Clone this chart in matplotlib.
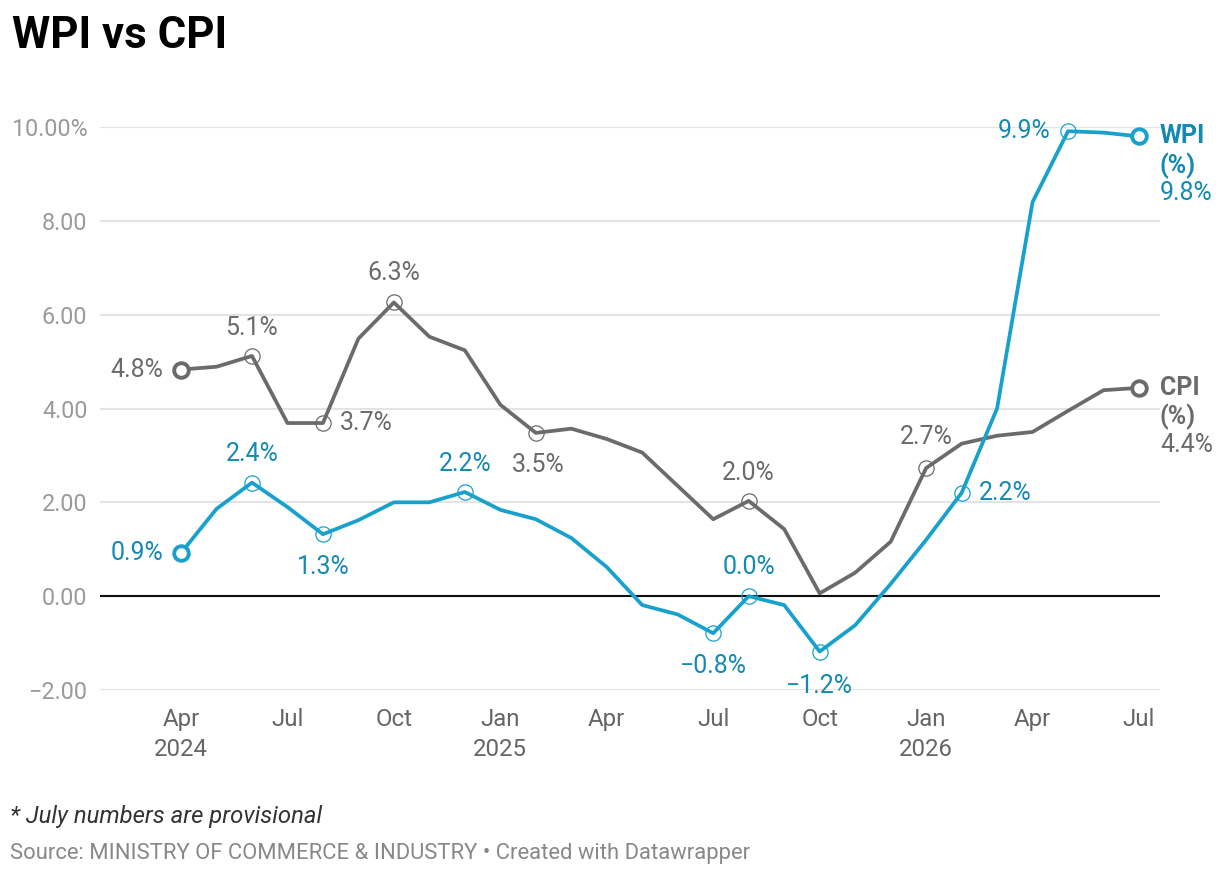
import matplotlib
matplotlib.use("Agg")
import matplotlib.pyplot as plt

plt.rcParams["font.family"] = ["Roboto", "DejaVu Sans"]

# Monthly inflation, Apr 2024 .. Jul 2026 (July numbers provisional)
months = ["Apr 2024", "May 2024", "Jun 2024", "Jul 2024", "Aug 2024", "Sep 2024",
          "Oct 2024", "Nov 2024", "Dec 2024", "Jan 2025", "Feb 2025", "Mar 2025",
          "Apr 2025", "May 2025", "Jun 2025", "Jul 2025", "Aug 2025", "Sep 2025",
          "Oct 2025", "Nov 2025", "Dec 2025", "Jan 2026", "Feb 2026", "Mar 2026",
          "Apr 2026", "May 2026", "Jun 2026", "Jul 2026"]
cpi = [4.83, 4.89, 5.12, 3.69, 3.69, 5.49, 6.26, 5.53, 5.24, 4.08, 3.48, 3.57,
       3.35, 3.06, 2.35, 1.64, 2.03, 1.43, 0.06, 0.50, 1.16, 2.73, 3.25, 3.42,
       3.50, 3.95, 4.39, 4.44]
wpi = [0.92, 1.86, 2.42, 1.90, 1.32, 1.62, 2.00, 2.00, 2.22, 1.84, 1.64, 1.24,
       0.62, -0.19, -0.39, -0.79, 0.00, -0.19, -1.18, -0.62, 0.26, 1.20, 2.20, 4.00,
       8.40, 9.91, 9.88, 9.80]

tick_idx = [0, 3, 6, 9, 12, 15, 18, 21, 24, 27]
tick_labels = ["Apr\n2024", "Jul", "Oct", "Jan\n2025", "Apr", "Jul", "Oct",
               "Jan\n2026", "Apr", "Jul"]
y_ticks = [-2, 0, 2, 4, 6, 8, 10]

CPI_COL = "#6b6b6b"
WPI_COL = "#18a1cd"
WPI_TXT = "#1489b3"
LABEL_SIZE = 18

# labelled points: (index, dx px, dy px, ha, va)
cpi_marks = [(0, -18, 0, "right", "center"), (2, 0, 28, "center", "center"),
             (4, 17, 0, "left", "center"), (6, 0, 29, "center", "center"),
             (10, 2, -32, "center", "center"), (16, 0, 28, "center", "center"),
             (21, 0, 31, "center", "center")]
wpi_marks = [(0, -18, 0, "right", "center"), (2, 0, 29, "center", "center"),
             (4, 0, -33, "center", "center"), (8, 0, 28, "center", "center"),
             (15, 0, -33, "center", "center"), (16, 0, 29, "center", "center"),
             (18, 0, -34, "center", "center"), (22, 17, 0, "left", "center"),
             (25, -18, 0, "right", "center")]


def fmt(v):
    return f"{v:.1f}%".replace("-", "\u2212")


fig = plt.figure(figsize=(12.2, 8.76), dpi=100)
ax = fig.add_axes([100 / 1220, 186 / 876, 1060 / 1220, 563 / 876])
x = list(range(len(months)))
px = 35.48
ax.set_xlim(-81 / px, 27 + 21 / px)
ax.set_ylim(-2, 10)

for s in ax.spines.values():
    s.set_visible(False)
ax.grid(axis="y", color="#e3e3e3", lw=1.5)
ax.set_axisbelow(True)
ax.axhline(0, color="#111111", lw=1.5, zorder=1)

ax.plot(x, cpi, color=CPI_COL, lw=2.7, zorder=3, solid_joinstyle="round")
ax.plot(x, wpi, color=WPI_COL, lw=2.7, zorder=4, solid_joinstyle="round")

for series, marks, col, tcol, z in [(cpi, cpi_marks, CPI_COL, CPI_COL, 5),
                                    (wpi, wpi_marks, WPI_COL, WPI_TXT, 6)]:
    for i, dx, dy, ha, va in marks:
        big = i == 0
        ax.plot(x[i], series[i], "o", ms=10.5 if big else 11,
                mfc="white" if big else "none", mec=col,
                mew=2.8 if big else 0.9, zorder=z, clip_on=False)
        ax.annotate(fmt(series[i]), (x[i], series[i]), xytext=(dx, dy),
                    textcoords="offset pixels", ha=ha, va=va, fontsize=LABEL_SIZE,
                    color=tcol, zorder=7)
    ax.plot(x[-1], series[-1], "o", ms=10.5, mfc="white", mec=col, mew=2.8,
            zorder=z, clip_on=False)

# end labels
for series, name, tcol in [(wpi, "WPI", WPI_TXT), (cpi, "CPI", CPI_COL)]:
    ax.annotate(name, (x[-1], series[-1]), xytext=(21, 0), textcoords="offset pixels",
                ha="left", va="center", fontsize=LABEL_SIZE, fontweight="bold", color=tcol)
    ax.annotate("(%)", (x[-1], series[-1]), xytext=(21, -29), textcoords="offset pixels",
                ha="left", va="center", fontsize=LABEL_SIZE, fontweight="bold", color=tcol)
    ax.annotate(fmt(series[-1]), (x[-1], series[-1]), xytext=(21, -57),
                textcoords="offset pixels", ha="left", va="center", fontsize=LABEL_SIZE,
                color=tcol)

ax.set_yticks(y_ticks)
ax.set_yticklabels([f"{v:.2f}".replace("-", "\u2212") + ("%" if v == 10 else "")
                    for v in y_ticks])
ax.set_xticks(tick_idx)
ax.set_xticklabels(tick_labels, linespacing=1.4)
ax.tick_params(axis="y", length=0, pad=9, labelsize=16.8, labelcolor="#9a9a9a")
ax.tick_params(axis="x", length=0, pad=13, labelsize=17.3, labelcolor="#666666")

fig.text(12 / 1220, 1 - 36 / 876, "WPI vs CPI", fontsize=31.5, fontweight="bold",
         color="#000000", va="center", ha="left")
fig.text(10 / 1220, 1 - 816 / 876, "* July numbers are provisional", fontsize=17.2,
         style="italic", color="#333333", va="center", ha="left")
fig.text(10 / 1220, 1 - 853 / 876,
         "Source: MINISTRY OF COMMERCE & INDUSTRY \u2022 Created with Datawrapper",
         fontsize=15.8, color="#888888", va="center", ha="left")

fig.savefig("out.png", dpi=100, facecolor="white")
